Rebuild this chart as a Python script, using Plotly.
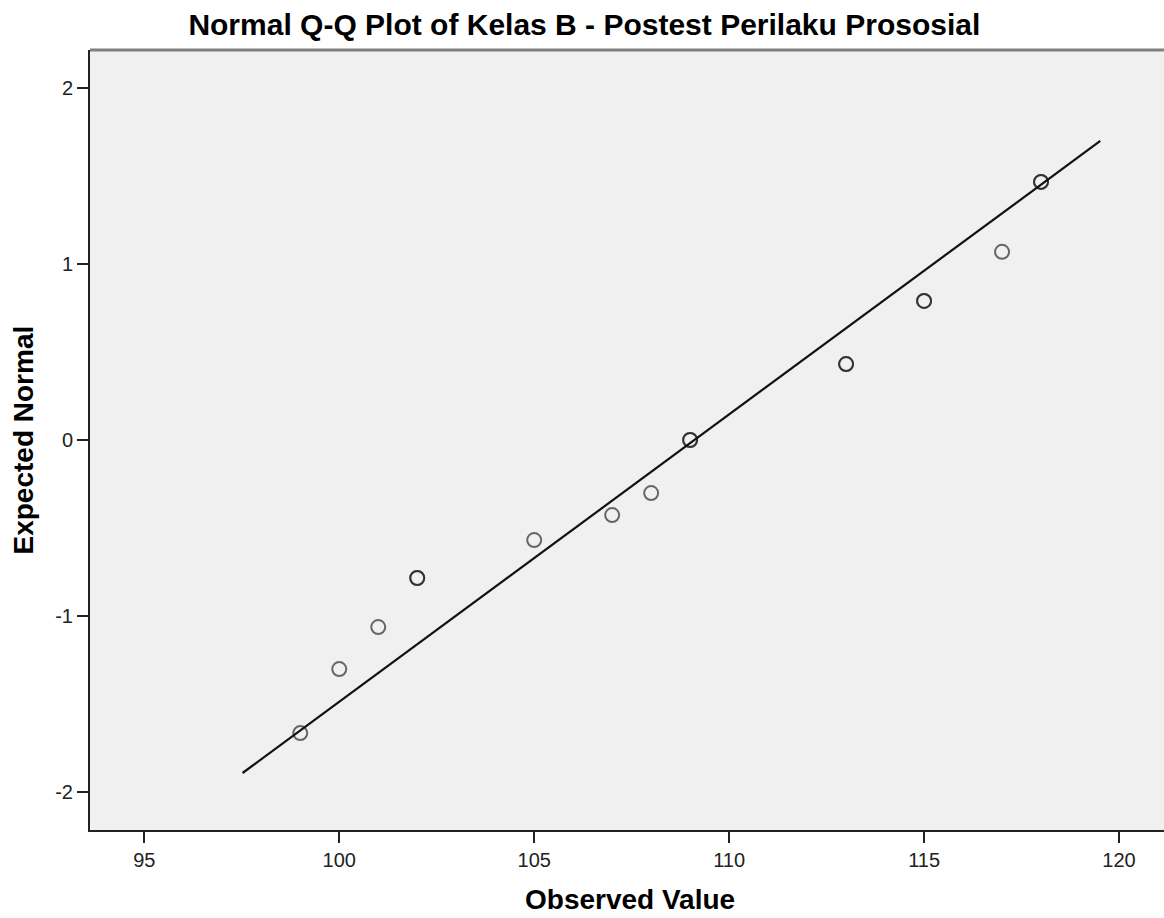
import plotly.graph_objects as go

# Observed scores and their expected normal quantiles (ties repeated)
observed = [99, 100, 101, 102, 102, 105, 107, 108, 109, 109,
            113, 113, 115, 115, 117, 118, 118]
expected = [-1.667, -1.303, -1.064, -0.785, -0.785, -0.569, -0.427, -0.302, 0.0, 0.0,
            0.432, 0.432, 0.791, 0.791, 1.070, 1.468, 1.468]

# Reference normal line: expected = (x - mean) / sd
fit_mean = 109.11
fit_sd = 6.12
fit_x = [97.52, 119.52]
fit_y = [(v - fit_mean) / fit_sd for v in fit_x]

x_ticks = [95, 100, 105, 110, 115, 120]
y_ticks = [-2, -1, 0, 1, 2]
y_tick_labels = ["-2", "-1", "0", "1", "2"]

FONT = "Liberation Sans, Arial, sans-serif"

fig = go.Figure()
fig.add_trace(go.Scatter(
    x=fit_x, y=fit_y, mode="lines",
    line=dict(color="#111111", width=2.2),
    hoverinfo="skip", showlegend=False,
))
fig.add_trace(go.Scatter(
    x=observed, y=expected, mode="markers",
    marker=dict(symbol="circle-open", size=14, opacity=0.62,
                color="#111111", line=dict(color="#111111", width=2)),
    showlegend=False,
))

fig.update_layout(
    width=1164, height=918,
    margin=dict(l=90, r=0, t=50, b=88),
    paper_bgcolor="white",
    plot_bgcolor="#f0f0f0",
    font=dict(family=FONT, color="#1a1a1a"),
    title=dict(
        text="Normal Q-Q Plot of Kelas B - Postest Perilaku Prososial",
        font=dict(family=FONT, size=30, color="#000000", weight="bold"),
        xref="container", x=0.502, xanchor="center",
        yref="container", y=1 - 24 / 918, yanchor="middle",
    ),
    xaxis=dict(
        range=[93.607, 121.154], tickmode="array", tickvals=x_ticks,
        ticks="outside", ticklen=11, tickwidth=2, tickcolor="#222222",
        showline=True, linecolor="#222222", linewidth=2,
        showgrid=False, zeroline=False,
        tickfont=dict(family=FONT, size=20, color="#222222"),
    ),
    yaxis=dict(
        range=[-2.218, 2.218], tickmode="array", tickvals=y_ticks,
        ticktext=y_tick_labels,
        ticks="outside", ticklen=11, tickwidth=2, tickcolor="#222222",
        showline=True, linecolor="#222222", linewidth=2,
        showgrid=False, zeroline=False,
        tickfont=dict(family=FONT, size=20, color="#222222"),
    ),
    annotations=[
        dict(text="Observed Value", xref="paper", yref="paper",
             x=0.503, y=(830 - 900) / 780, xanchor="center", yanchor="middle",
             showarrow=False,
             font=dict(family=FONT, size=28, color="#000000", weight="bold")),
        dict(text="Expected Normal", xref="paper", yref="paper",
             x=(22.5 - 90) / 1074, y=0.5, xanchor="center", yanchor="middle",
             textangle=-90, showarrow=False,
             font=dict(family=FONT, size=28, color="#000000", weight="bold")),
    ],
    shapes=[
        dict(type="line", xref="paper", yref="paper", x0=0, x1=1, y0=1, y1=1,
             line=dict(color="#808080", width=3)),
    ],
)

fig.write_html("out.html")
